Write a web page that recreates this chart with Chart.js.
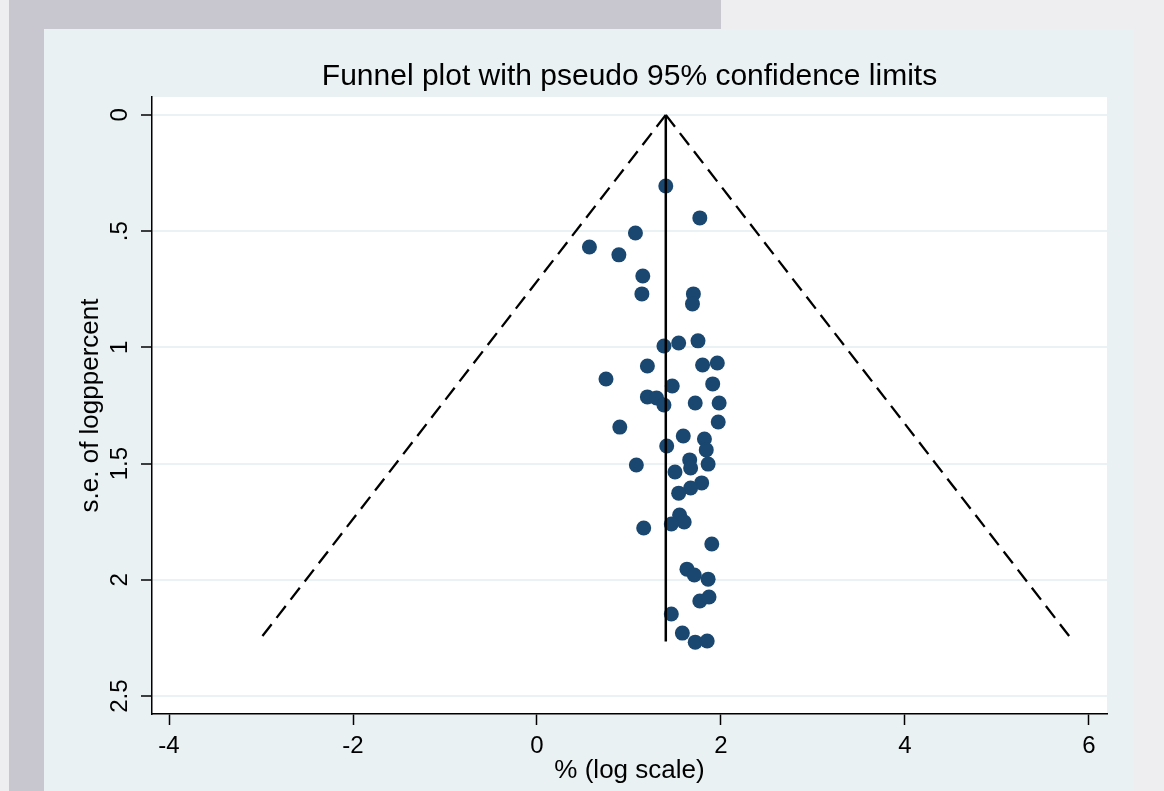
<!DOCTYPE html>
<html>
<head>
<meta charset="utf-8">
<script src="https://cdn.jsdelivr.net/npm/chart.js@4/dist/chart.umd.min.js"></script>
<style>
  html, body { margin: 0; padding: 0; background: #eeedf0; width: 1164px; height: 791px; overflow: hidden; }
  #gray { position: absolute; left: 9px; top: 0; width: 712px; height: 791px; background: #c8c6ce; }
  #panel { position: absolute; left: 44px; top: 29px; width: 1090px; height: 762px; background: #e9f1f2; }
  #c { position: absolute; left: 0; top: 0; }
</style>
</head>
<body>
<div id="gray"></div>
<div id="panel"></div>
<canvas id="c" width="1164" height="791"></canvas>
<script>
// ---- data ----
const studyEffect = [1.40, 1.77, 1.07, 0.57, 0.89, 1.15, 1.14, 1.70, 1.69,
  1.38, 1.54, 1.75, 1.20, 1.80, 1.96, 0.75, 1.47, 1.91, 1.20, 1.30, 1.38, 1.72, 1.98,
  1.97, 0.90, 1.59, 1.82, 1.84, 1.41, 1.66, 1.67, 1.86, 1.08, 1.50, 1.79, 1.67, 1.54,
  1.55, 1.60, 1.46, 1.16, 1.90, 1.63, 1.71, 1.86, 1.77, 1.87, 1.46, 1.58, 1.72, 1.85];
const studySE = [0.306, 0.443, 0.508, 0.568, 0.602, 0.693, 0.770, 0.770, 0.813,
  0.994, 0.981, 0.972, 1.080, 1.076, 1.067, 1.136, 1.166, 1.157, 1.213, 1.218, 1.248, 1.239, 1.239,
  1.321, 1.343, 1.381, 1.394, 1.441, 1.424, 1.484, 1.519, 1.502, 1.506, 1.536, 1.583, 1.605, 1.627,
  1.721, 1.751, 1.760, 1.777, 1.846, 1.954, 1.979, 1.997, 2.091, 2.074, 2.147, 2.229, 2.268, 2.263];

const pooledLineX = [1.40, 1.40];
const pooledLineSE = [0, 2.265];
const leftLimitX = [1.40, -3.03];
const leftLimitSE = [0, 2.265];
const rightLimitX = [1.40, 5.83];
const rightLimitSE = [0, 2.265];

const xTickValues = [-4, -2, 0, 2, 4, 6];
const xTickLabels = ['-4', '-2', '0', '2', '4', '6'];
const yTickValues = [0, 0.5, 1, 1.5, 2, 2.5];
const yTickLabels = ['0', '.5', '1', '1.5', '2', '2.5'];

const titleText = 'Funnel plot with pseudo 95% confidence limits';
const xTitle = '% (log scale)';
const yTitle = 's.e. of logppercent';

// ---- build chart ----
const pts = (xs, ys) => xs.map((x, i) => ({ x: x, y: ys[i] }));
const FONT = '"Liberation Sans", Arial, Helvetica, sans-serif';

const plotBg = {
  id: 'plotBg',
  beforeDraw(chart) {
    const { ctx, chartArea: a } = chart;
    ctx.save();
    ctx.fillStyle = '#ffffff';
    ctx.fillRect(a.left, a.top, a.right - a.left, a.bottom - a.top);
    ctx.restore();
  }
};

new Chart(document.getElementById('c'), {
  type: 'scatter',
  data: {
    datasets: [
      {
        data: pts(studyEffect, studySE),
        backgroundColor: '#1a476f',
        borderWidth: 0,
        pointRadius: 7.5,
        pointHoverRadius: 7.5,
        order: 3
      },
      {
        type: 'line',
        data: pts(pooledLineX, pooledLineSE),
        borderColor: '#000000',
        borderWidth: 2.5,
        pointRadius: 0,
        fill: false,
        order: 1
      },
      {
        type: 'line',
        data: pts(leftLimitX, leftLimitSE),
        borderColor: '#000000',
        borderWidth: 2.3,
        borderDash: [15, 8],
        pointRadius: 0,
        fill: false,
        order: 1
      },
      {
        type: 'line',
        data: pts(rightLimitX, rightLimitSE),
        borderColor: '#000000',
        borderWidth: 2.3,
        borderDash: [15, 8],
        pointRadius: 0,
        fill: false,
        order: 1
      }
    ]
  },
  options: {
    responsive: false,
    devicePixelRatio: 1,
    animation: false,
    layout: { padding: { left: 44, right: 57, top: 29, bottom: 0 } },
    plugins: {
      legend: { display: false },
      tooltip: { enabled: false },
      title: {
        display: true,
        text: titleText,
        fullSize: false,
        color: '#000000',
        font: { family: FONT, size: 30, weight: 'normal', lineHeight: 1.2 },
        padding: { top: 29.4, bottom: 2.6 }
      }
    },
    scales: {
      x: {
        type: 'linear',
        position: 'bottom',
        min: -4.185,
        max: 6.196,
        afterFit(s) { s.height = 77; },
        ticks: {
          stepSize: 2,
          includeBounds: false,
          color: '#000000',
          padding: 7,
          font: { family: FONT, size: 24 },
          callback: (v) => { const i = xTickValues.indexOf(v); return i >= 0 ? xTickLabels[i] : ''; }
        },
        grid: { drawOnChartArea: false, drawTicks: true, tickLength: 11, tickColor: '#000000', tickWidth: 1.5 },
        border: { display: true, color: '#000000', width: 1.5 },
        title: {
          display: true,
          text: xTitle,
          color: '#000000',
          font: { family: FONT, size: 26, lineHeight: 1.2 },
          padding: { top: 0, bottom: 4.2 }
        }
      },
      y: {
        type: 'linear',
        position: 'left',
        reverse: true,
        min: -0.077,
        max: 2.577,
        afterFit(s) { s.width = 108; },
        ticks: {
          stepSize: 0.5,
          includeBounds: false,
          minRotation: 90,
          maxRotation: 90,
          crossAlign: 'center',
          color: '#000000',
          padding: 4.3,
          font: { family: FONT, size: 24 },
          callback: (v) => { const i = yTickValues.indexOf(v); return i >= 0 ? yTickLabels[i] : ''; }
        },
        grid: { color: '#eaf2f3', lineWidth: 2, drawTicks: true, tickLength: 11, tickColor: '#000000', tickWidth: 1.5 },
        border: { display: true, color: '#000000', width: 1.5 },
        title: {
          display: true,
          text: yTitle,
          color: '#000000',
          font: { family: FONT, size: 26, lineHeight: 1.2 },
          padding: { top: 31, bottom: 0 }
        }
      }
    }
  },
  plugins: [plotBg]
});
</script>
</body>
</html>
